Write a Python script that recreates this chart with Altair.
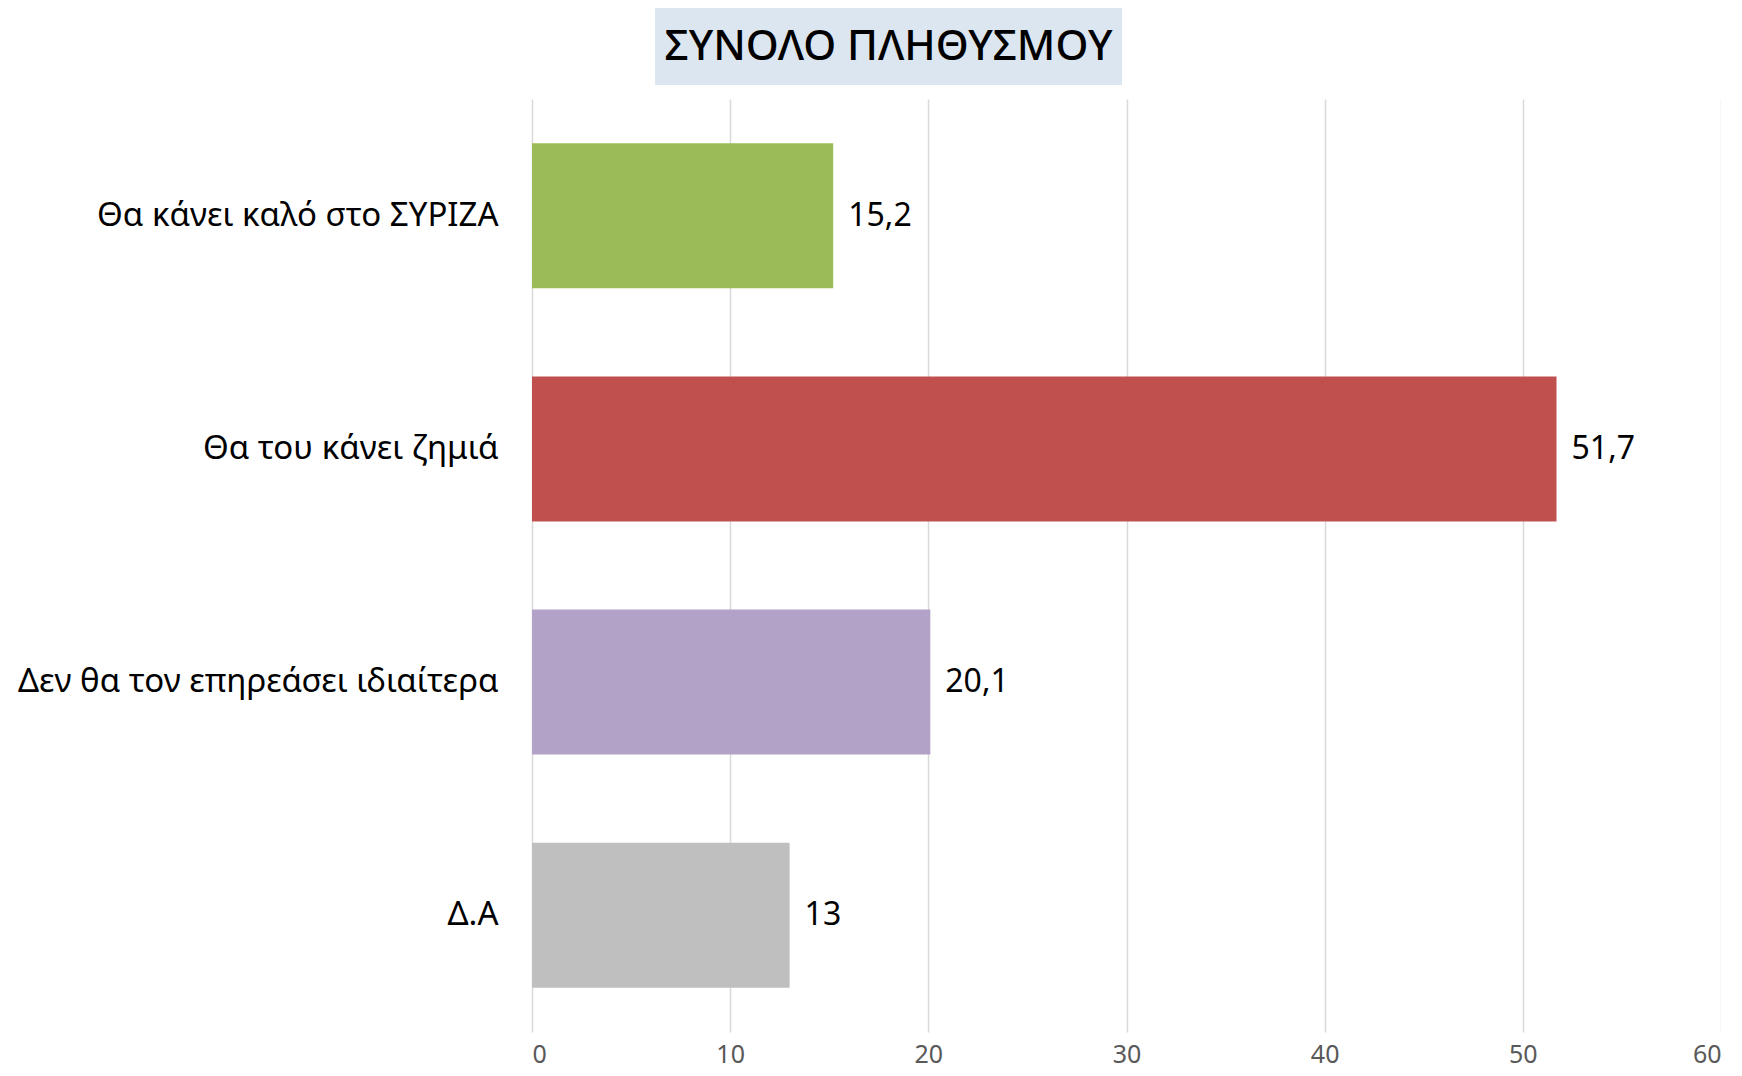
import altair as alt
import pandas as pd

categories = ["Θα κάνει καλό στο ΣΥΡΙΖΑ", "Θα του κάνει ζημιά",
              "Δεν θα τον επηρεάσει ιδιαίτερα", "Δ.Α"]
values = [15.2, 51.7, 20.1, 13]
colors = ["#9BBB59", "#C0504D", "#B3A2C7", "#BFBFBF"]
x_ticks = [0, 10, 20, 30, 40, 50, 60]
title_text = "ΣΥΝΟΛΟ ΠΛΗΘΥΣΜΟΥ"

df = pd.DataFrame({
    "cat": categories,
    "val": values,
    "color": colors,
    "label": [f"{v:g}".replace(".", ",") for v in values],
})

FONT = "Noto Sans"

y_enc = alt.Y("cat:N", sort=categories, title=None,
              scale=alt.Scale(paddingInner=0.378, paddingOuter=0.19),
              axis=alt.Axis(labelFontSize=33, labelColor="#000000", labelFont=FONT,
                            labelPadding=34, ticks=False, domain=False, grid=False,
                            labelLimit=600, minExtent=524, maxExtent=524))
x_enc = alt.X("val:Q", title=None,
              scale=alt.Scale(domain=[0, 60], nice=False),
              axis=alt.Axis(values=x_ticks, labelFontSize=25, labelColor="#595959",
                            labelFont=FONT, labelPadding=10, ticks=False, domain=False,
                            grid=True, gridColor="#D9D9D9", gridWidth=1.5))

bars = alt.Chart(df).mark_bar().encode(
    y=y_enc, x=x_enc,
    color=alt.Color("color:N", scale=None),
)
labels = alt.Chart(df).mark_text(align="left", baseline="middle", dx=15,
                                 fontSize=32, font=FONT, color="#000000").encode(
    y=alt.Y("cat:N", sort=categories), x="val:Q", text="label:N")

main = alt.layer(bars, labels).properties(width=1189, height=933)

title_chart = alt.Chart(pd.DataFrame({"t": [title_text]})).mark_text(
    fontSize=42, font=FONT, fontWeight=500, color="#000000",
    align="center", baseline="middle"
).encode(text="t:N").properties(
    width=467, height=77,
    view=alt.ViewBackground(fill="#DCE6F1", stroke=None),
)

spacer = alt.Chart(pd.DataFrame({"t": [""]})).mark_text(opacity=0).encode(
    text="t:N"
).properties(width=113, height=77)

top = alt.hconcat(spacer, title_chart, spacing=10)

chart = alt.vconcat(top, main, spacing=14).properties(
    padding=0
).configure_view(stroke=None)

chart.save("out.html", embed_options={"renderer": "svg", "actions": False})
